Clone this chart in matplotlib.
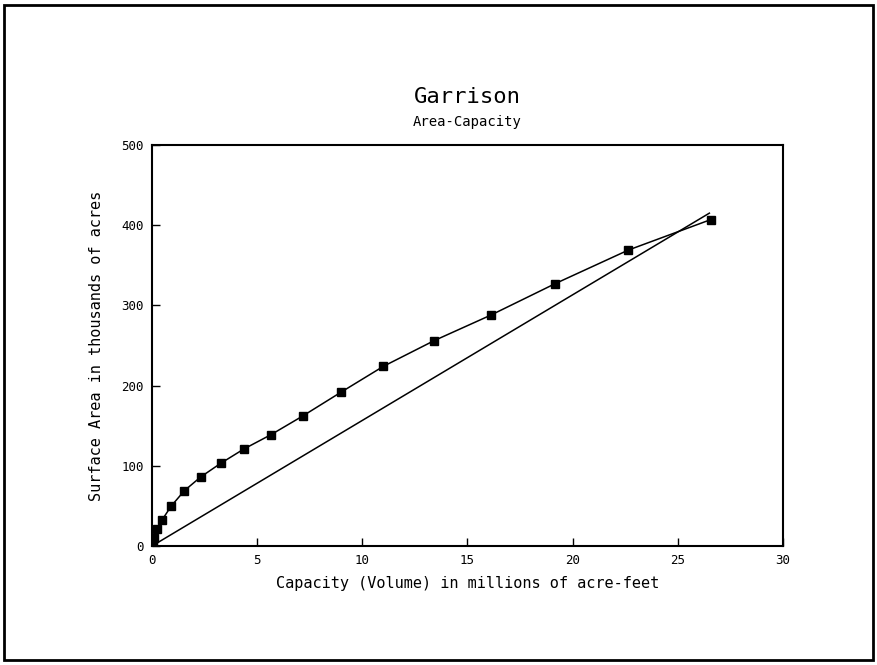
import matplotlib.pyplot as plt
from matplotlib.patches import Rectangle

# Garrison reservoir area-capacity curve
capacity = [0.0, 0.03, 0.08, 0.22, 0.49, 0.92, 1.54, 2.31, 3.26, 4.37, 5.67,
            7.16, 9.0, 11.0, 13.41, 16.12, 19.16, 22.65, 26.57]
area = [0, 4, 10, 21, 33, 50, 69, 86, 103, 121, 139,
        162, 192, 224, 256, 288, 327, 369, 407]

# straight reference line
line_x = [0.0, 26.5]
line_y = [0, 415]

fig = plt.figure(figsize=(8.77, 6.65), dpi=100)
ax = fig.add_axes([0.1733, 0.1789, 0.7195, 0.6031])

ax.plot(capacity, area, color="black", lw=1.1, marker="s", ms=5.8)
ax.plot(line_x, line_y, color="black", lw=1.1)

ax.set_xlim(0, 30)
ax.set_ylim(0, 500)
ax.set_xticks(range(0, 31, 5))
ax.set_yticks(range(0, 501, 100))
ax.tick_params(direction="in", length=6, width=1, labelsize=9, pad=6,
               top=False, right=False)
for tl in ax.get_xticklabels() + ax.get_yticklabels():
    tl.set_family("DejaVu Sans Mono")
for s in ax.spines.values():
    s.set_linewidth(1.5)

ax.set_xlabel("Capacity (Volume) in millions of acre-feet", family="DejaVu Sans Mono",
              fontsize=11, labelpad=6)
ax.set_ylabel("Surface Area in thousands of acres", family="DejaVu Sans Mono",
              fontsize=11, labelpad=12)

fig.text(0.533, 0.854, "Garrison", ha="center", va="center",
         family="DejaVu Sans Mono", fontsize=16)
fig.text(0.533, 0.816, "Area-Capacity", ha="center", va="center",
         family="DejaVu Sans Mono", fontsize=10)

# outer frame around the page
fig.patches.append(Rectangle((0.005, 0.007), 0.99, 0.985, transform=fig.transFigure,
                             fill=False, edgecolor="black", lw=2))

fig.savefig("out.png", dpi=100)
